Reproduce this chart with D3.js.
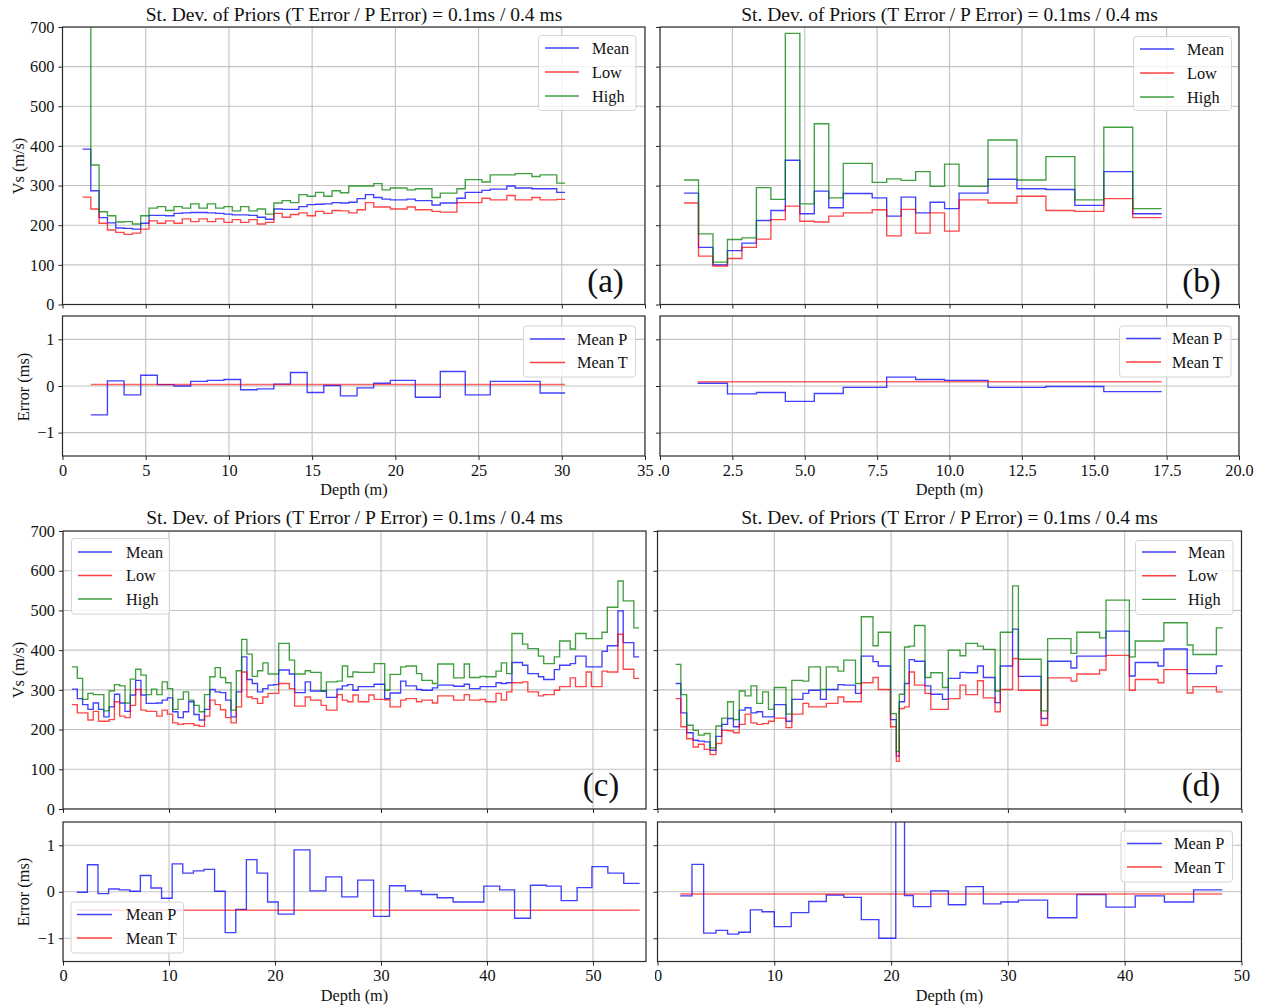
<!DOCTYPE html>
<html><head><meta charset="utf-8">
<script src="https://cdn.jsdelivr.net/npm/d3@7"></script>
<style>body{margin:0;background:#fff;} text{font-family:"Liberation Serif","Times New Roman",serif;}</style>
</head><body>
<script>
// ---------- DATA ----------
const titleText = "St. Dev. of Priors (T Error / P Error) = 0.1ms / 0.4 ms";
// (a)
const aDepth = [1.2,1.7,2.2,2.7,3.2,3.7,4.2,4.7,5.2,5.7,6.2,6.7,7.2,7.7,8.2,8.7,9.2,9.7,10.2,10.7,11.2,11.7,12.2,12.7,13.2,13.7,14.2,14.7,15.2,15.7,16.2,16.7,17.2,17.7,18.2,18.7,19.2,19.7,20.2,20.7,21.2,21.7,22.2,22.7,23.2,23.7,24.2,24.7,25.2,25.7,26.2,26.7,27.2,27.7,28.2,28.7,29.2,29.7,30.2];
const aMean = [392,287,219,206,193,192,190,205,225,225,224,230,231,232,232,231,230,228,226,226,225,220,215,241,240,240,247,252,253,254,257,256,258,267,277,270,266,264,264,266,262,262,251,256,256,268,283,283,288,291,291,299,294,294,292,292,292,283];
const aLow  = [271,241,205,188,182,177,180,190,211,205,211,205,216,209,216,209,216,207,214,207,214,203,207,230,220,227,231,224,235,230,237,236,231,239,257,246,246,241,241,246,239,239,235,233,233,257,257,257,268,264,264,275,264,264,270,264,264,265];
const aHigh = [900,352,234,224,208,209,203,224,243,247,237,247,243,254,243,254,243,247,236,247,236,241,228,256,262,257,277,273,283,273,287,282,299,299,299,305,289,294,294,289,292,292,270,281,281,292,315,315,309,327,327,327,330,330,323,327,327,306];
const aErrDepth = [1.7,2.7,3.7,4.7,5.7,6.7,7.7,8.7,9.7,10.7,11.7,12.7,13.7,14.7,15.7,16.7,17.7,18.7,19.7,21.2,22.7,24.2,25.7,27.2,28.7,30.2];
const aMeanP = [-0.62,0.11,-0.19,0.23,0.03,0.0,0.10,0.12,0.14,-0.08,-0.06,0.04,0.29,-0.14,0.01,-0.21,-0.04,0.06,0.12,-0.24,0.31,-0.19,0.10,0.10,-0.15];
const aMeanTDepth = [1.7,30.2];
const aMeanT = [0.03,0.03];
// (b)
const bDepth = [0.83,1.33,1.83,2.33,2.83,3.33,3.83,4.33,4.83,5.33,5.83,6.33,7.33,7.83,8.33,8.83,9.33,9.83,10.33,11.33,12.33,13.33,14.33,15.33,16.33,17.33];
const bMean = [281,144,100,136,155,212,237,364,229,286,244,280,269,223,271,231,258,242,281,316,292,290,250,335,229];
const bLow  = [256,122,97,116,144,165,214,248,210,208,223,231,239,173,240,180,231,185,264,256,273,237,235,267,219];
const bHigh = [314,178,107,164,168,295,265,684,254,456,269,356,308,317,313,335,298,354,298,415,314,373,264,447,242];
const bErrDepth = [1.3,2.33,3.33,4.33,5.33,6.33,7.83,8.83,9.83,11.33,13.33,15.33,17.33];
const bMeanP = [0.06,-0.17,-0.14,-0.33,-0.16,-0.03,0.19,0.14,0.12,-0.03,-0.01,-0.12];
const bMeanTDepth = [1.3,17.33];
const bMeanT = [0.09,0.09];
// (c)
const cDepth = [0.85,1.35,1.85,2.35,2.85,3.35,3.85,4.35,4.85,5.35,5.85,6.35,6.85,7.35,7.85,8.35,8.85,9.35,9.85,10.35,10.85,11.35,11.85,12.35,12.85,13.35,13.85,14.35,14.85,15.35,15.85,16.35,16.85,17.35,17.85,18.35,18.85,19.35,19.85,20.35,20.85,21.35,21.85,22.35,22.85,23.35,23.85,24.35,24.85,25.35,25.85,26.35,26.85,27.35,27.85,28.35,28.85,29.35,29.85,30.35,30.85,31.35,31.85,32.35,32.85,33.35,33.85,34.35,34.85,35.35,35.85,36.35,36.85,37.35,37.85,38.35,38.85,39.35,39.85,40.35,40.85,41.35,41.85,42.35,42.85,43.35,43.85,44.35,44.85,45.35,45.85,46.35,46.85,47.35,47.85,48.35,48.85,49.35,49.85,50.35,50.85,51.35,51.85,52.35,52.85,53.35,53.85,54.35];
const cMean = [302,278,263,251,267,251,232,257,289,267,246,287,324,287,266,266,267,274,280,245,230,245,270,238,224,251,301,295,293,274,232,295,383,326,316,295,303,312,313,350,350,340,293,293,320,297,297,297,281,281,302,310,313,299,308,308,308,314,314,278,292,292,322,310,310,301,299,299,305,312,312,312,309,309,314,303,303,308,308,308,318,316,318,369,369,362,341,341,333,326,326,351,362,362,366,385,385,358,358,358,397,411,411,499,419,419,383];
const cLow  = [263,242,242,224,246,221,221,225,270,234,230,261,301,249,246,246,234,249,239,217,213,215,215,211,208,234,274,263,250,230,217,257,345,282,278,266,282,291,291,316,316,303,259,259,282,274,274,261,249,249,288,274,270,287,270,270,287,276,276,275,257,257,274,278,278,270,274,274,267,285,285,285,274,274,288,274,274,276,270,270,291,274,295,318,318,320,295,295,285,288,288,299,308,308,330,308,308,345,308,308,347,345,345,440,352,352,329];
const cHigh = [358,329,276,291,288,288,247,297,313,310,267,327,352,337,288,302,288,320,303,251,276,295,274,261,245,288,333,356,331,318,249,348,427,390,334,348,368,340,340,417,417,375,340,340,348,344,344,297,320,320,322,360,333,345,344,344,344,366,366,299,339,339,358,360,360,341,324,324,316,365,365,365,330,330,365,331,331,334,333,333,347,368,341,442,442,415,404,404,385,366,366,383,423,423,403,442,442,429,429,429,445,508,508,574,524,524,456];
const cErrDepth = [1.3,2.3,3.3,4.3,5.3,6.3,7.3,8.3,9.3,10.3,11.3,12.3,13.3,14.3,15.3,16.3,17.3,18.3,19.3,20.3,21.8,23.3,24.8,26.3,27.8,29.3,30.8,32.3,33.8,35.3,36.8,38.3,39.7,41.2,42.6,44.1,45.6,47.0,48.5,49.9,51.4,52.9,54.4];
const cMeanP = [-0.01,0.58,-0.04,0.06,0.04,0.01,0.35,0.08,-0.14,0.60,0.40,0.45,0.48,0.01,-0.88,-0.38,0.69,0.40,-0.22,-0.48,0.90,0.02,0.32,-0.11,0.25,-0.53,0.13,0.02,-0.06,-0.13,-0.22,-0.22,0.12,0.04,-0.57,0.14,0.12,-0.19,0.09,0.54,0.40,0.18];
const cMeanTDepth = [1.3,54.4];
const cMeanT = [-0.40,-0.40];
// (d)
const dDepth = [1.55,2.0,2.5,3.05,3.5,4.0,4.5,5.0,5.5,6.0,6.5,7.0,7.5,8.0,8.5,9.0,9.5,10.0,11.0,11.5,12.45,12.95,13.95,14.45,15.45,15.95,16.95,17.45,18.45,18.9,19.95,20.45,20.7,21.15,21.55,22.0,22.9,23.4,24.4,24.9,25.9,26.4,27.4,27.9,28.9,29.35,30.4,30.9,32.85,33.4,35.4,35.9,37.85,38.4,40.4,40.9,42.85,43.35,45.35,45.85,47.85,48.4];
const dMean = [316,242,192,173,171,169,148,183,213,228,207,249,255,242,245,232,232,263,221,276,291,299,276,301,313,312,291,385,371,360,225,133,270,316,376,372,310,289,276,329,344,343,360,331,268,360,453,334,228,372,355,385,385,448,335,369,360,403,341,341,360];
const dLow  = [278,207,177,156,163,150,137,165,198,197,192,213,239,217,213,215,221,229,205,239,266,257,257,266,282,270,270,318,331,301,207,120,253,257,345,312,291,251,251,278,312,288,323,280,245,301,379,299,211,330,322,340,350,387,299,326,318,351,292,308,295];
const dHigh = [364,288,211,198,186,190,154,209,229,270,225,297,285,310,266,295,251,306,239,324,322,358,301,358,347,375,316,484,411,445,240,145,289,408,410,462,331,343,306,400,386,417,410,402,297,445,562,377,247,429,392,445,431,526,383,423,423,469,413,389,456];
const dErrDepth = [1.95,2.95,3.95,5.0,6.0,6.95,7.95,8.95,10.0,11.45,12.95,14.45,15.95,17.45,18.95,20.4,21.15,21.9,23.4,24.9,26.4,27.9,29.4,30.9,33.4,35.9,38.4,40.9,43.4,45.9,48.35];
const dMeanP = [-0.09,0.59,-0.89,-0.83,-0.91,-0.87,-0.39,-0.43,-0.75,-0.45,-0.21,-0.07,-0.12,-0.60,-1.00,2.5,-0.08,-0.32,0.02,-0.28,0.11,-0.26,-0.22,-0.18,-0.56,-0.06,-0.33,-0.09,-0.22,0.04];
const dMeanTDepth = [1.95,48.35];
const dMeanT = [-0.05,-0.05];
// tick labels
const vsTicks = [0,100,200,300,400,500,600,700];
const errTicks = [-1,0,1];
const aXTicks = [0,5,10,15,20,25,30,35];
const bXTicks = [0,2.5,5,7.5,10,12.5,15,17.5,20];
const cXTicks = [0,10,20,30,40,50];
const dXTicks = [0,10,20,30,40,50];

// ---------- DRAWING ----------
const FS = 16.3;
const COL = {blue:"#0000ff", red:"#ff0000", green:"#008000"};
const svg = d3.select("body").append("svg").attr("width",1263).attr("height",1007);
const defs = svg.append("defs");
let clipN = 0;
function clipRect(x,y,w,h){
  const id = "cl"+(clipN++);
  defs.append("clipPath").attr("id",id).append("rect").attr("x",x).attr("y",y).attr("width",w).attr("height",h);
  return `url(#${id})`;
}
function axes(c){
  const x = d3.scaleLinear().domain(c.xDomain).range([c.left,c.right]);
  const y = d3.scaleLinear().domain(c.yDomain).range([c.bottom,c.top]);
  const g = svg.append("g");
  const grid = g.append("g").attr("clip-path", clipRect(c.left,c.top,c.right-c.left,c.bottom-c.top));
  grid.selectAll("line.gx").data(c.xTicks).join("line")
    .attr("x1",d=>x(d)).attr("x2",d=>x(d)).attr("y1",c.top).attr("y2",c.bottom)
    .attr("stroke","#c2c2c2").attr("stroke-width",1.1);
  grid.selectAll("line.gy").data(c.yTicks).join("line")
    .attr("y1",d=>y(d)).attr("y2",d=>y(d)).attr("x1",c.left).attr("x2",c.right)
    .attr("stroke","#c2c2c2").attr("stroke-width",1.1);
  const plot = g.append("g").attr("clip-path", clipRect(c.left,c.top,c.right-c.left,c.bottom-c.top));
  const xa = g.append("g").attr("transform",`translate(0,${c.bottom})`)
    .call(d3.axisBottom(x).tickValues(c.xTicks).tickSize(4).tickPadding(4)
      .tickFormat(c.showX ? c.xFmt : ()=>""));
  const ya = g.append("g").attr("transform",`translate(${c.left},0)`)
    .call(d3.axisLeft(y).tickValues(c.yTicks).tickSize(4).tickPadding(4)
      .tickFormat(c.showY ? c.yFmt : ()=>""));
  [xa,ya].forEach(a=>{
    a.select(".domain").remove();
    a.attr("font-family",'"Liberation Serif","Times New Roman",serif').attr("font-size",FS).attr("color","#222");
    a.selectAll("text").attr("fill","#111");
  });
  if(c.firstDx) xa.selectAll(".tick text").filter(d=>d===0).attr("dx",c.firstDx);
  if(c.clipX) xa.attr("clip-path", clipRect(c.clipX, -10, 700, 60));
  g.append("rect").attr("x",c.left).attr("y",c.top).attr("width",c.right-c.left).attr("height",c.bottom-c.top)
    .attr("fill","none").attr("stroke","#2a2a2a").attr("stroke-width",1.2);
  return {x,y,g,plot};
}
function step(ax, depth, vals, color, op){
  const pts = vals.map((v,i)=>[depth[i],v]);
  pts.push([depth[depth.length-1], vals[vals.length-1]]);
  ax.plot.append("path").attr("d", d3.line().x(d=>ax.x(d[0])).y(d=>ax.y(d[1])).curve(d3.curveStepAfter)(pts))
    .attr("fill","none").attr("stroke",color).attr("stroke-opacity",op).attr("stroke-width",1.35);
}
function flat(ax, depth, vals, color){
  ax.plot.append("path").attr("d", d3.line().x((d,i)=>ax.x(depth[i])).y(d=>ax.y(d))(vals))
    .attr("fill","none").attr("stroke",color).attr("stroke-opacity",0.6).attr("stroke-width",1.5);
}
function legend(box, rows){
  const g = svg.append("g");
  g.append("rect").attr("x",box.x).attr("y",box.y).attr("width",box.w).attr("height",box.h)
    .attr("rx",3).attr("fill","#fff").attr("fill-opacity",0.8).attr("stroke","#d4d4d4").attr("stroke-width",1);
  rows.forEach((r,i)=>{
    const yy = box.r0 + i*box.dy;
    g.append("line").attr("x1",box.lx0).attr("x2",box.lx1).attr("y1",yy).attr("y2",yy)
      .attr("stroke",r.c).attr("stroke-opacity",0.75).attr("stroke-width",1.35);
    g.append("text").attr("x",box.tx).attr("y",yy).attr("dy","0.35em").attr("font-size",FS).attr("fill","#111").text(r.t);
  });
}
function txt(x,y,s,size,opt={}){
  const t = svg.append("text").attr("x",x).attr("y",y).attr("font-size",size).attr("fill","#111")
    .attr("text-anchor",opt.anchor||"middle").text(s);
  if(opt.rot) t.attr("transform",`rotate(-90,${x},${y})`).attr("dy","0.35em");
  return t;
}
const vsFmt = d=>String(d);
const errFmt = d3.format("d");
const intFmt = d3.format("d");
const bFmt = d=> d===0 ? ".0" : d3.format(".1f")(d);
const vsRows = [{t:"Mean",c:COL.blue},{t:"Low",c:COL.red},{t:"High",c:COL.green}];
const errRows = [{t:"Mean P",c:COL.blue},{t:"Mean T",c:COL.red}];

function vsPanel(c, depth, mean, low, high){
  const ax = axes(Object.assign({yDomain:[0,700], yTicks:vsTicks, yFmt:vsFmt, showX:false}, c));
  step(ax, depth, mean, COL.blue, 0.75);
  step(ax, depth, low, COL.red, 0.72);
  step(ax, depth, high, COL.green, 0.75);
  return ax;
}
function errPanel(c, depth, meanP, tDepth, meanT){
  const ax = axes(Object.assign({yDomain:[-1.5,1.5], yTicks:errTicks, yFmt:errFmt, showX:true}, c));
  step(ax, depth, meanP, COL.blue, 0.75);
  flat(ax, tDepth, meanT, COL.red);
  return ax;
}

// (a)
vsPanel({left:62.5,right:645,top:27,bottom:304.5,xDomain:[0,35],xTicks:aXTicks,xFmt:intFmt,showY:true}, aDepth,aMean,aLow,aHigh);
errPanel({left:62.5,right:645,top:316,bottom:456,xDomain:[0,35],xTicks:aXTicks,xFmt:intFmt,showY:true}, aErrDepth,aMeanP,aMeanTDepth,aMeanT);
// (b)
vsPanel({left:660,right:1239,top:27,bottom:304.5,xDomain:[0,20],xTicks:bXTicks,xFmt:bFmt,showY:false}, bDepth,bMean,bLow,bHigh);
errPanel({left:660,right:1239,top:316,bottom:456,xDomain:[0,20],xTicks:bXTicks,xFmt:bFmt,showY:false,firstDx:3}, bErrDepth,bMeanP,bMeanTDepth,bMeanT);
// (c)
vsPanel({left:63,right:646,top:531,bottom:809,xDomain:[0,55],xTicks:cXTicks,xFmt:intFmt,showY:true}, cDepth,cMean,cLow,cHigh);
errPanel({left:63,right:646,top:822,bottom:961.5,xDomain:[0,55],xTicks:cXTicks,xFmt:intFmt,showY:true}, cErrDepth,cMeanP,cMeanTDepth,cMeanT);
// (d)
vsPanel({left:657.5,right:1241.5,top:531,bottom:809,xDomain:[0,50],xTicks:dXTicks,xFmt:intFmt,showY:false}, dDepth,dMean,dLow,dHigh);
errPanel({left:657.5,right:1241.5,top:822,bottom:961.5,xDomain:[0,50],xTicks:dXTicks,xFmt:intFmt,showY:false,clipX:655}, dErrDepth,dMeanP,dMeanTDepth,dMeanT);

// legends
legend({x:538.5,y:35.5,w:97.5,h:75,r0:48,dy:24,lx0:545,lx1:579,tx:592}, vsRows);
legend({x:1133.5,y:36.5,w:98,h:74,r0:49,dy:24,lx0:1140,lx1:1174,tx:1187}, vsRows);
legend({x:71.5,y:538.5,w:98,h:75.5,r0:552,dy:23.5,lx0:78,lx1:112,tx:126}, vsRows);
legend({x:1135.5,y:540.5,w:97.5,h:74,r0:552,dy:23.7,lx0:1142,lx1:1176,tx:1188}, vsRows);
legend({x:523.5,y:326,w:112,h:51,r0:339,dy:23.5,lx0:530,lx1:565,tx:577}, errRows);
legend({x:1119.5,y:326,w:111.5,h:51,r0:338.5,dy:23.5,lx0:1126,lx1:1161,tx:1172}, errRows);
legend({x:71,y:902,w:112.5,h:51,r0:914.5,dy:23.5,lx0:77,lx1:112,tx:126}, errRows);
legend({x:1121,y:831,w:111.5,h:51,r0:843.5,dy:23.5,lx0:1127,lx1:1162,tx:1174}, errRows);

// titles and labels
txt(354,21,titleText,19.5);
txt(949.5,21,titleText,19.5);
txt(354.5,524,titleText,19.5);
txt(949.5,524,titleText,19.5);
txt(18,166,"Vs (m/s)",FS,{rot:true});
txt(23,387,"Error (ms)",FS,{rot:true});
txt(18,670,"Vs (m/s)",FS,{rot:true});
txt(23,892,"Error (ms)",FS,{rot:true});
txt(354,495,"Depth (m)",FS);
txt(949.5,495,"Depth (m)",FS);
txt(354.5,1001,"Depth (m)",FS);
txt(949.5,1001,"Depth (m)",FS);
txt(605.5,292,"(a)",33);
txt(1201.5,292,"(b)",33);
txt(601,796,"(c)",33);
txt(1201,796,"(d)",33);
</script>
</body></html>
